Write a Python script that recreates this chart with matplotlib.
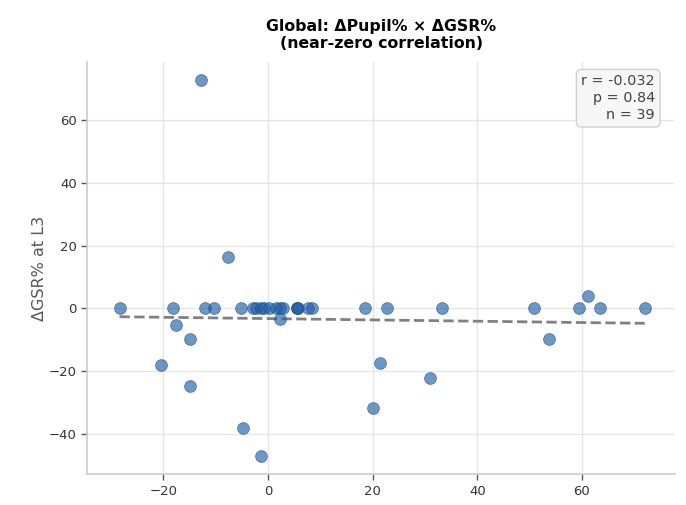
import numpy as np
import matplotlib
matplotlib.use("Agg")
import matplotlib.pyplot as plt

# Data
pupil_zero = [-28.4, -18.2, -12.1, -10.3, -5.2, -2.9, -2.3, -1.3, -0.8, 0.2, 1.5,
              2.3, 2.9, 5.5, 5.6, 5.7, 7.7, 8.4, 18.6, 22.8, 33.3, 50.8, 59.4, 63.4, 72.0]
gsr_zero = [0.0] * len(pupil_zero)
pupil_other = [-20.5, -17.6, -14.9, -14.9, -12.8, -7.7, -4.8, -1.3, 2.3, 61.1, 53.8, 31.0, 21.3, 20.1]
gsr_other = [-17.9, -5.4, -9.6, -24.6, 72.7, 16.3, -38.0, -47.0, -3.4, 4.0, -9.6, -22.0, -17.3, -31.6]

dpupil = np.array(pupil_zero + pupil_other)
dgsr = np.array(gsr_zero + gsr_other)

stats_text = "r = -0.032\np = 0.84\nn = 39"
title = "Global: \u0394Pupil% \u00d7 \u0394GSR%\n(near-zero correlation)"
xlabel = "\u0394Pupil% at L3"
ylabel = "\u0394GSR% at L3"

plt.rcParams['font.family'] = ['DejaVu Sans']
fig = plt.figure(figsize=(6.86, 5.05), dpi=100)
ax = fig.add_axes([0.127, 0.061, 0.857, 0.816])

ax.grid(True, color='#e6e6e6', linewidth=1.0, zorder=0)
ax.set_axisbelow(True)

ax.scatter(dpupil, dgsr, s=72, color='#1f5fa8', alpha=0.65,
           edgecolors='#1a4f8c', linewidths=0.6, zorder=3)

slope, intercept = np.polyfit(dpupil, dgsr, 1)
xs = np.array([dpupil.min(), dpupil.max()])
ax.plot(xs, slope * xs + intercept, linestyle='--', color='#808080',
        linewidth=2, zorder=2)

ax.set_xticks([-20, 0, 20, 40, 60])
ax.set_yticks([-40, -20, 0, 20, 40, 60])
ax.set_xlim(-34.6, 77.8)
ax.set_ylim(-52.8, 78.5)

for s in ['top', 'right']:
    ax.spines[s].set_visible(False)
for s in ['left', 'bottom']:
    ax.spines[s].set_color('#cccccc')
    ax.spines[s].set_linewidth(1.2)

ax.tick_params(axis='both', labelsize=9.5, colors='#333333', length=4, width=1)
ax.tick_params(axis='both', color='#555555')

ax.set_xlabel(xlabel, fontsize=11.5, color='#555555', labelpad=9)
ax.set_ylabel(ylabel, fontsize=11.5, color='#555555', labelpad=1)
ax.set_title(title, fontsize=11.3, fontweight='bold', pad=10, linespacing=1.15)

ax.text(0.966, 0.97, stats_text, transform=ax.transAxes, ha='right', va='top',
        fontsize=10.4, color='#444444', linespacing=1.25,
        bbox=dict(boxstyle='round,pad=0.35', facecolor='#f7f7f7',
                  edgecolor='#cccccc', alpha=0.9))

fig.savefig('out.png', dpi=100)
